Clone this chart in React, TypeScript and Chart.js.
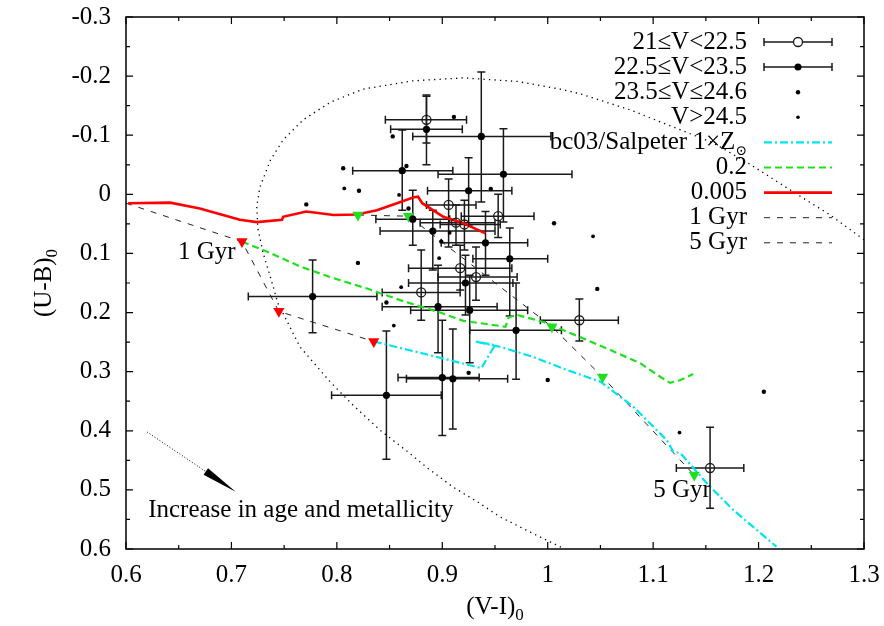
import React, { useEffect, useRef } from "react";
import { Chart, registerables } from "chart.js";
Chart.register(...registerables);

const SERIF = "'Liberation Serif', 'Times New Roman', 'DejaVu Serif', serif";
const FS = 25;
const SUB = 17;

// ---- axis ranges / ticks ----
const xRange = [0.6, 1.3];
const yRange = [-0.3, 0.6];
const tickStep = 0.1;

// ---- 21 <= V < 22.5 (open circles with error bars) ----
const brightVI = [0.885, 0.906, 0.953, 0.913, 0.921, 0.917, 0.932, 0.880, 1.030, 1.154];
const brightUB = [-0.126, 0.018, 0.037, 0.048, 0.051, 0.125, 0.140, 0.166, 0.213, 0.463];
const brightVIlo = [0.846, 0.885, 0.918, 0.879, 0.898, 0.868, 0.896, 0.843, 0.993, 1.122];
const brightVIhi = [0.923, 0.932, 0.987, 0.950, 0.955, 0.966, 0.971, 0.917, 1.067, 1.186];
const brightUBlo = [-0.168, -0.026, 0.0, 0.018, 0.010, 0.086, 0.089, 0.094, 0.177, 0.394];
const brightUBhi = [-0.087, 0.089, 0.073, 0.086, 0.094, 0.162, 0.179, 0.213, 0.248, 0.531];

// ---- 22.5 <= V < 23.5 (filled circles with error bars) ----
const midVI = [0.885, 0.937, 0.862, 0.958, 0.925, 0.872, 0.891, 0.941, 0.964, 0.922, 0.896, 0.926, 0.970, 0.900, 0.910, 0.847, 0.777];
const midUB = [-0.110, -0.098, -0.040, -0.034, -0.006, 0.042, 0.062, 0.082, 0.109, 0.150, 0.190, 0.196, 0.230, 0.310, 0.312, 0.340, 0.173];
const midVIlo = [0.851, 0.872, 0.815, 0.896, 0.886, 0.837, 0.841, 0.899, 0.929, 0.868, 0.843, 0.870, 0.926, 0.858, 0.866, 0.795, 0.716];
const midVIhi = [0.919, 1.003, 0.910, 1.023, 0.966, 0.907, 0.950, 0.981, 1.000, 0.967, 0.952, 0.981, 1.013, 0.935, 0.962, 0.899, 0.838];
const midUBlo = [-0.166, -0.207, -0.109, -0.111, -0.062, -0.007, 0.027, 0.029, 0.057, 0.103, 0.120, 0.137, 0.150, 0.213, 0.228, 0.231, 0.111];
const midUBhi = [-0.050, 0.013, 0.027, 0.047, 0.052, 0.086, 0.128, 0.137, 0.206, 0.204, 0.268, 0.285, 0.313, 0.408, 0.397, 0.448, 0.234];

// ---- 23.5 <= V <= 24.6 (dots) ----
const faintVI = [0.911, 0.853, 0.866, 0.946, 0.806, 0.821, 0.771, 0.868, 0.820, 0.847, 1.006, 1.047, 1.000, 1.205, 0.899, 0.925];
const faintUB = [-0.131, -0.098, -0.048, -0.009, -0.044, -0.006, 0.017, 0.024, 0.116, 0.183, 0.049, 0.160, 0.314, 0.334, 0.080, 0.302];

// ---- V > 24.5 (small dots) ----
const fainterVI = [0.859, 0.807, 0.861, 0.854, 1.043, 1.125, 0.897, 0.907];
const fainterUB = [0.001, -0.010, 0.157, 0.222, 0.071, 0.403, 0.108, 0.065];

// ---- bc03/Salpeter 1xZsun track ----
const solarVI = [0.835, 0.888, 0.937, 0.950, 0.931, 0.955, 0.986, 1.018, 1.050, 1.081, 1.113, 1.119, 1.126, 1.151, 1.176, 1.217];
const solarUB = [0.249, 0.272, 0.294, 0.255, 0.249, 0.258, 0.275, 0.297, 0.317, 0.359, 0.416, 0.435, 0.438, 0.489, 0.534, 0.596];

// ---- 0.2 Zsun track ----
const z02VI = [0.710, 0.734, 0.765, 0.797, 0.828, 0.860, 0.898, 0.920, 0.960, 0.963, 0.971, 0.996, 1.034, 1.059, 1.088, 1.107, 1.116, 1.126, 1.138];
const z02UB = [0.080, 0.097, 0.122, 0.142, 0.159, 0.179, 0.200, 0.214, 0.224, 0.208, 0.204, 0.216, 0.244, 0.263, 0.286, 0.309, 0.319, 0.314, 0.304];

// ---- 0.005 Zsun track ----
const z0005VI = [0.602, 0.642, 0.670, 0.708, 0.724, 0.748, 0.749, 0.771, 0.797, 0.819, 0.838, 0.857, 0.873, 0.877, 0.881, 0.901, 0.920, 0.941];
const z0005UB = [0.015, 0.014, 0.024, 0.043, 0.047, 0.043, 0.038, 0.029, 0.035, 0.034, 0.027, 0.015, 0.005, 0.004, 0.015, 0.038, 0.049, 0.066];

// ---- isochrones ----
const gyr1VI = [0.600, 0.710, 0.745, 0.835];
const gyr1UB = [0.015, 0.080, 0.198, 0.249];
const gyr5VI = [0.820, 0.868, 1.004, 1.052, 1.139];
const gyr5UB = [0.035, 0.037, 0.224, 0.309, 0.475];

// ---- 1 Gyr markers (red) and 5 Gyr markers (green) ----
const mark1VI = [0.710, 0.745, 0.835];
const mark1UB = [0.080, 0.198, 0.249];
const mark5VI = [0.820, 0.868, 1.004, 1.052, 1.139];
const mark5UB = [0.035, 0.037, 0.224, 0.309, 0.475];

// ---- dotted envelope ----
const envVI = [1.300, 1.268, 1.233, 1.190, 1.157, 1.126, 1.078, 1.031, 1.012, 0.971, 0.920, 0.872, 0.825, 0.794, 0.768, 0.749, 0.737, 0.727, 0.724, 0.725, 0.730, 0.737, 0.744, 0.765, 0.794, 0.815, 0.841, 0.869, 0.886, 0.910, 0.934, 0.955, 0.983, 1.016];
const envUB = [0.077, 0.035, -0.004, -0.053, -0.087, -0.109, -0.143, -0.170, -0.178, -0.191, -0.197, -0.192, -0.178, -0.156, -0.126, -0.092, -0.058, -0.012, 0.021, 0.057, 0.099, 0.140, 0.184, 0.258, 0.318, 0.356, 0.399, 0.438, 0.463, 0.495, 0.521, 0.546, 0.571, 0.600];

// ---- arrow (start, tip) ----
const arrowVI = [0.620, 0.704];
const arrowUB = [0.402, 0.503];

// ---- text ----
const legendLabels = ["21≤V<22.5", "22.5≤V<23.5", "23.5≤V≤24.6", "V>24.5", "bc03/Salpeter 1×Z", "0.2", "0.005", "1 Gyr", "5 Gyr"];
const noteText = "Increase in age and metallicity";
const noteVI = 0.621;
const noteUB = 0.534;
const gyr1Label = "1 Gyr";
const gyr1LabelVI = 0.704;
const gyr1LabelUB = 0.099;
const gyr5Label = "5 Gyr";
const gyr5LabelVI = 1.100;
const gyr5LabelUB = 0.501;
const xTitle = "(V-I)";
const yTitle = "(U-B)";

const RED = "#ff0000";
const GREEN = "#1fe01f";
const CYAN = "#00e4ee";
const INK = "#1a1a1a";

const pts = (xs: number[], ys: number[]) => xs.map((x, i) => ({ x, y: ys[i] }));
const fmt = (v: number) => {
  const r = Math.round(v * 10) / 10;
  return r === 0 ? "0" : String(r);
};

const drawErrBars = (chart: any, vx: number[], vy: number[], xl: number[], xh: number[], yl: number[], yh: number[]) => {
  const { ctx } = chart;
  const xs = chart.scales.x;
  const ys = chart.scales.y;
  const cap = 4;
  ctx.save();
  ctx.strokeStyle = INK;
  ctx.lineWidth = 1.5;
  for (let i = 0; i < vx.length; i++) {
    const px = xs.getPixelForValue(vx[i]);
    const py = ys.getPixelForValue(vy[i]);
    const x0 = xs.getPixelForValue(xl[i]);
    const x1 = xs.getPixelForValue(xh[i]);
    const y0 = ys.getPixelForValue(yl[i]);
    const y1 = ys.getPixelForValue(yh[i]);
    ctx.beginPath();
    ctx.moveTo(x0, py); ctx.lineTo(x1, py);
    ctx.moveTo(x0, py - cap); ctx.lineTo(x0, py + cap);
    ctx.moveTo(x1, py - cap); ctx.lineTo(x1, py + cap);
    ctx.moveTo(px, y0); ctx.lineTo(px, y1);
    ctx.moveTo(px - cap, y0); ctx.lineTo(px + cap, y0);
    ctx.moveTo(px - cap, y1); ctx.lineTo(px + cap, y1);
    ctx.stroke();
  }
  ctx.restore();
};

const customPlugin = {
  id: "gnuplotStyle",
  beforeDatasetsDraw(chart: any) {
    drawErrBars(chart, brightVI, brightUB, brightVIlo, brightVIhi, brightUBlo, brightUBhi);
    drawErrBars(chart, midVI, midUB, midVIlo, midVIhi, midUBlo, midUBhi);
  },
  afterDraw(chart: any) {
    const { ctx, chartArea: a } = chart;
    const xs = chart.scales.x;
    const ys = chart.scales.y;
    ctx.save();
    // frame
    ctx.strokeStyle = "#000";
    ctx.lineWidth = 1.5;
    ctx.strokeRect(a.left, a.top, a.right - a.left, a.bottom - a.top);
    // ticks
    ctx.lineWidth = 1.2;
    ctx.beginPath();
    for (let k = 0; k <= Math.round((xRange[1] - xRange[0]) / (tickStep / 2)); k++) {
      const v = xRange[0] + k * tickStep / 2;
      const p = xs.getPixelForValue(v);
      const len = k % 2 === 0 ? 7 : 4;
      ctx.moveTo(p, a.bottom); ctx.lineTo(p, a.bottom - len);
      ctx.moveTo(p, a.top); ctx.lineTo(p, a.top + len);
    }
    for (let k = 0; k <= Math.round((yRange[1] - yRange[0]) / (tickStep / 2)); k++) {
      const v = yRange[0] + k * tickStep / 2;
      const p = ys.getPixelForValue(v);
      const len = k % 2 === 0 ? 7 : 4;
      ctx.moveTo(a.left, p); ctx.lineTo(a.left + len, p);
      ctx.moveTo(a.right, p); ctx.lineTo(a.right - len, p);
    }
    ctx.stroke();

    // arrow
    const ax0 = xs.getPixelForValue(arrowVI[0]);
    const ay0 = ys.getPixelForValue(arrowUB[0]);
    const ax1 = xs.getPixelForValue(arrowVI[1]);
    const ay1 = ys.getPixelForValue(arrowUB[1]);
    const ang = Math.atan2(ay1 - ay0, ax1 - ax0);
    const hl = 36, hw = 4;
    const bx = ax1 - hl * Math.cos(ang), by = ay1 - hl * Math.sin(ang);
    ctx.setLineDash([1, 2]);
    ctx.lineWidth = 1;
    ctx.beginPath(); ctx.moveTo(ax0, ay0); ctx.lineTo(bx, by); ctx.stroke();
    ctx.setLineDash([]);
    ctx.fillStyle = "#000";
    ctx.beginPath();
    ctx.moveTo(ax1, ay1);
    ctx.lineTo(bx + hw * Math.sin(ang), by - hw * Math.cos(ang));
    ctx.lineTo(bx - hw * Math.sin(ang), by + hw * Math.cos(ang));
    ctx.closePath(); ctx.fill();

    // annotations
    ctx.fillStyle = "#000";
    ctx.font = `${FS}px ${SERIF}`;
    ctx.textBaseline = "middle";
    ctx.textAlign = "left";
    ctx.fillText(noteText, xs.getPixelForValue(noteVI), ys.getPixelForValue(noteUB));
    ctx.fillText(gyr5Label, xs.getPixelForValue(gyr5LabelVI), ys.getPixelForValue(gyr5LabelUB));
    ctx.textAlign = "right";
    ctx.fillText(gyr1Label, xs.getPixelForValue(gyr1LabelVI), ys.getPixelForValue(gyr1LabelUB));

    // legend
    const textRight = a.right - 117;
    const s0 = a.right - 100, s1 = a.right - 32, sm = (s0 + s1) / 2;
    const rowTop = a.top + 25, rowH = 25.1;
    legendLabels.forEach((lab, i) => {
      const y = rowTop + i * rowH;
      ctx.fillStyle = "#000";
      ctx.font = `${FS}px ${SERIF}`;
      ctx.textAlign = "right";
      ctx.textBaseline = "middle";
      if (i === 4) {
        ctx.font = `14px ${SERIF}`;
        const sw = ctx.measureText("⊙").width;
        ctx.textAlign = "left";
        ctx.fillText("⊙", textRight - sw, y + 9);
        ctx.font = `${FS}px ${SERIF}`;
        ctx.textAlign = "right";
        ctx.fillText(lab, textRight - sw, y);
      } else {
        ctx.fillText(lab, textRight, y);
      }
      ctx.save();
      if (i <= 1) {
        ctx.strokeStyle = INK; ctx.lineWidth = 1.5;
        ctx.beginPath();
        ctx.moveTo(s0, y); ctx.lineTo(s1, y);
        ctx.moveTo(s0, y - 4); ctx.lineTo(s0, y + 4);
        ctx.moveTo(s1, y - 4); ctx.lineTo(s1, y + 4);
        ctx.stroke();
        ctx.beginPath(); ctx.arc(sm, y, i === 0 ? 4.5 : 3.5, 0, Math.PI * 2);
        if (i === 0) { ctx.fillStyle = "#fff"; ctx.fill(); ctx.lineWidth = 1.3; ctx.stroke(); }
        else { ctx.fillStyle = "#000"; ctx.fill(); }
      } else if (i === 2 || i === 3) {
        ctx.fillStyle = "#000";
        ctx.beginPath(); ctx.arc(sm, y, i === 2 ? 2.2 : 1.8, 0, Math.PI * 2); ctx.fill();
      } else {
        const cfg: any = {
          4: [CYAN, 2.2, [8, 3, 2, 3]],
          5: [GREEN, 2.2, [7, 4]],
          6: [RED, 2.6, []],
          7: ["#222", 1, [6, 7]],
          8: ["#222", 1, [6, 7]],
        }[i];
        ctx.strokeStyle = cfg[0]; ctx.lineWidth = cfg[1]; ctx.setLineDash(cfg[2]);
        ctx.beginPath(); ctx.moveTo(s0, y); ctx.lineTo(s1, y); ctx.stroke();
      }
      ctx.restore();
    });

    // axis titles
    ctx.fillStyle = "#000";
    ctx.textBaseline = "alphabetic";
    ctx.font = `${FS}px ${SERIF}`;
    const xtw = ctx.measureText(xTitle).width;
    ctx.font = `${SUB}px ${SERIF}`;
    const subw = ctx.measureText("0").width;
    const xc = (a.left + a.right) / 2;
    const xStart = xc - (xtw + subw) / 2;
    ctx.textAlign = "left";
    ctx.font = `${FS}px ${SERIF}`;
    ctx.fillText(xTitle, xStart, 614);
    ctx.font = `${SUB}px ${SERIF}`;
    ctx.fillText("0", xStart + xtw, 620);

    ctx.save();
    ctx.translate(51, (a.top + a.bottom) / 2);
    ctx.rotate(-Math.PI / 2);
    ctx.font = `${FS}px ${SERIF}`;
    const ytw = ctx.measureText(yTitle).width;
    const yStart = -(ytw + subw) / 2;
    ctx.fillText(yTitle, yStart, 0);
    ctx.font = `${SUB}px ${SERIF}`;
    ctx.fillText("0", yStart + ytw, 6);
    ctx.restore();

    ctx.restore();
  },
};

export default function App() {
  const ref = useRef<HTMLCanvasElement>(null);
  useEffect(() => {
    if (!ref.current) return;
    const lineDs = (label: string, xs: number[], ys: number[], color: string, width: number, dash: number[], order: number) => ({
      label, data: pts(xs, ys), showLine: true, borderColor: color, borderWidth: width, borderDash: dash,
      pointRadius: 0, fill: false, tension: 0, order,
    });
    const chart = new Chart(ref.current, {
      type: "scatter",
      data: {
        datasets: [
          { label: legendLabels[0], data: pts(brightVI, brightUB), pointStyle: "circle", pointRadius: 4.5, borderWidth: 1.3, borderColor: INK, backgroundColor: "rgba(0,0,0,0)", order: 0 },
          { label: legendLabels[1], data: pts(midVI, midUB), pointStyle: "circle", pointRadius: 3.6, borderWidth: 0, backgroundColor: "#000", borderColor: "#000", order: 0 },
          { label: legendLabels[2], data: pts(faintVI, faintUB), pointStyle: "circle", pointRadius: 2.2, borderWidth: 0, backgroundColor: "#000", borderColor: "#000", order: 0 },
          { label: legendLabels[3], data: pts(fainterVI, fainterUB), pointStyle: "circle", pointRadius: 1.9, borderWidth: 0, backgroundColor: "#000", borderColor: "#000", order: 0 },
          { label: "1 Gyr marks", data: pts(mark1VI, mark1UB), pointStyle: "triangle", rotation: 180, pointRadius: 6.5, borderWidth: 0, backgroundColor: RED, borderColor: RED, order: 1 },
          { label: "5 Gyr marks", data: pts(mark5VI, mark5UB), pointStyle: "triangle", rotation: 180, pointRadius: 6.5, borderWidth: 0, backgroundColor: GREEN, borderColor: GREEN, order: 1 },
          lineDs(legendLabels[4], solarVI, solarUB, CYAN, 2.2, [8, 3, 2, 3], 3),
          lineDs(legendLabels[5], z02VI, z02UB, GREEN, 2.2, [7, 4], 3),
          lineDs(legendLabels[6], z0005VI, z0005UB, RED, 2.6, [], 2),
          lineDs(legendLabels[7], gyr1VI, gyr1UB, "#222", 1, [6, 7], 4),
          lineDs(legendLabels[8], gyr5VI, gyr5UB, "#222", 1, [6, 7], 4),
          lineDs("envelope", envVI, envUB, "#000", 1.3, [1.3, 4.2], 5),
        ],
      },
      options: {
        responsive: false,
        animation: false,
        events: [],
        layout: { padding: { left: 0, right: 20, top: 17, bottom: 0 } },
        plugins: { legend: { display: false }, tooltip: { enabled: false } },
        scales: {
          x: {
            type: "linear", min: xRange[0], max: xRange[1],
            ticks: { stepSize: tickStep, callback: (v: any) => fmt(Number(v)), font: { family: SERIF, size: FS }, color: "#000", padding: 11, maxRotation: 0, autoSkip: false },
            grid: { display: false, drawTicks: false }, border: { display: false },
            afterFit: (s: any) => { s.height = 77; s.paddingLeft = 0; s.paddingRight = 0; },
          },
          y: {
            type: "linear", reverse: true, min: yRange[0], max: yRange[1],
            ticks: { stepSize: tickStep, callback: (v: any) => fmt(Number(v)), font: { family: SERIF, size: FS }, color: "#000", padding: 15, autoSkip: false },
            grid: { display: false, drawTicks: false }, border: { display: false },
            afterFit: (s: any) => { s.width = 126; s.paddingTop = 0; s.paddingBottom = 0; },
          },
        },
      } as any,
      plugins: [customPlugin],
    });
    return () => chart.destroy();
  }, []);
  return (
    <div style={{ position: "absolute", left: 0, top: 0, width: 884, height: 626, background: "#fff" }}>
      <canvas ref={ref} width={884} height={626} style={{ display: "block" }} />
    </div>
  );
}
